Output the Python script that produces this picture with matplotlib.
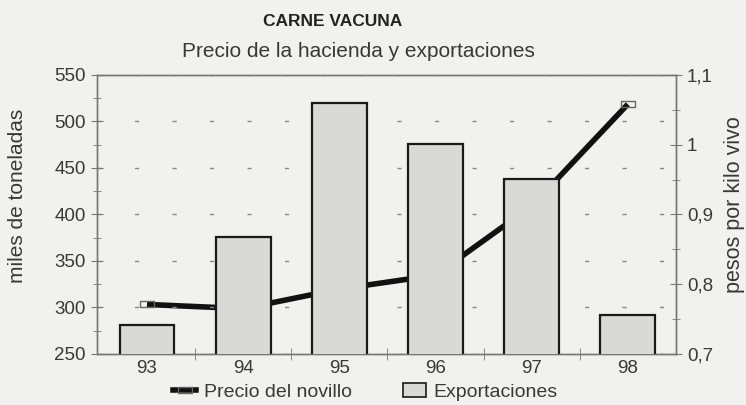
import matplotlib
matplotlib.use("Agg")
import matplotlib.pyplot as plt
from matplotlib.path import Path
from matplotlib.lines import Line2D
from matplotlib.patches import Patch
from matplotlib.ticker import MultipleLocator, FixedLocator

# data
years = ["93", "94", "95", "96", "97", "98"]
exportaciones = [281, 376, 520, 476, 438, 292]       # miles de toneladas
precio_novillo = [0.771, 0.765, 0.793, 0.813, 0.912, 1.058]  # pesos por kilo vivo

left_ticks = [250, 300, 350, 400, 450, 500, 550]
right_ticks = [0.7, 0.8, 0.9, 1.0, 1.1]
right_labels = ["0,7", "0,8", "0,9", "1", "1,1"]

plt.rcParams['font.family'] = ['Liberation Sans', 'DejaVu Sans']
txt = '#383838'
spine = '#777777'
bg = '#f1f1ef'

fig = plt.figure(figsize=(7.46, 4.05), dpi=100, facecolor=bg)
ax = fig.add_axes([0.130, 0.126, 0.776, 0.689])
ax2 = ax.twinx()
# bars must sit on top of the price line
ax.set_zorder(ax2.get_zorder() + 1)
ax.patch.set_visible(False)
ax2.set_facecolor(bg)

x = list(range(len(years)))

# price line on the right scale
rect = Path([(-1, -0.42), (1, -0.42), (1, 0.42), (-1, 0.42), (-1, -0.42)])
ax2.plot(x, precio_novillo, color='#111111', lw=4, solid_capstyle='butt',
         marker=rect, markersize=10, mfc='none', mec='#666666', mew=1)
ax2.set_ylim(0.7, 1.1)
ax2.yaxis.set_major_locator(FixedLocator(right_ticks))
ax2.set_yticklabels(right_labels)
ax2.yaxis.set_minor_locator(MultipleLocator(0.05))
ax2.set_ylabel("pesos por kilo vivo", fontsize=15.5, color=txt, va='center')
ax2.yaxis.set_label_coords(1.102, 0.534)

# export bars on the left scale
ax.bar(x, exportaciones, width=0.57, color='#d9d9d7', edgecolor='#1a1a1a',
       linewidth=1.6, zorder=3)
ax.set_ylim(250, 550)
ax.set_xlim(-0.52, 5.5)
ax.yaxis.set_major_locator(FixedLocator(left_ticks))
ax.yaxis.set_minor_locator(MultipleLocator(25))
ax.set_ylabel("miles de toneladas", fontsize=15, color=txt, va='center')
ax.yaxis.set_label_coords(-0.138, 0.566)

ax.yaxis.grid(True, color='#888888', lw=1, linestyle=(0, (3, 24)), zorder=1)
ax.set_axisbelow(True)

# category labels at the centres, ticks between categories
ax.set_xticks(x)
ax.set_xticklabels(years)
ax.xaxis.set_minor_locator(FixedLocator([i + 0.5 for i in x[:-1]]))
ax.tick_params(axis='x', which='major', length=0, pad=4)
ax.tick_params(axis='x', which='minor', direction='inout', length=8,
               color=spine)

ax.tick_params(axis='y', which='both', direction='inout', color=spine)
ax.tick_params(axis='y', which='major', length=9)
ax.tick_params(axis='y', which='minor', length=6)
ax2.tick_params(axis='y', which='both', direction='inout', color=spine)
ax2.tick_params(axis='y', which='major', length=9)
ax2.tick_params(axis='y', which='minor', length=6)

for a in (ax, ax2):
    a.tick_params(labelsize=13.5, labelcolor=txt)
    for s in a.spines.values():
        s.set_color(spine)
        s.set_linewidth(1)

fig.text(0.446, 0.946, "CARNE VACUNA", ha='center', va='center',
         fontsize=12.5, fontweight='bold', color='#222222')
fig.text(0.481, 0.872, "Precio de la hacienda y exportaciones",
         ha='center', va='center', fontsize=15, color=txt)

handles = [
    Line2D([0], [0], color='#111111', lw=4, marker=rect, markersize=10,
           mfc='none', mec='#666666', mew=1),
    Patch(facecolor='#d9d9d7', edgecolor='#1a1a1a', linewidth=1.2),
]
fig.legend(handles, ["Precio del novillo", "Exportaciones"], ncol=2,
           loc='center', bbox_to_anchor=(0.49, 0.032), frameon=False,
           fontsize=14, labelcolor=txt, handlelength=1.2,
           handletextpad=0.4, columnspacing=2.6)

fig.savefig("out.png", dpi=100, facecolor=bg)
